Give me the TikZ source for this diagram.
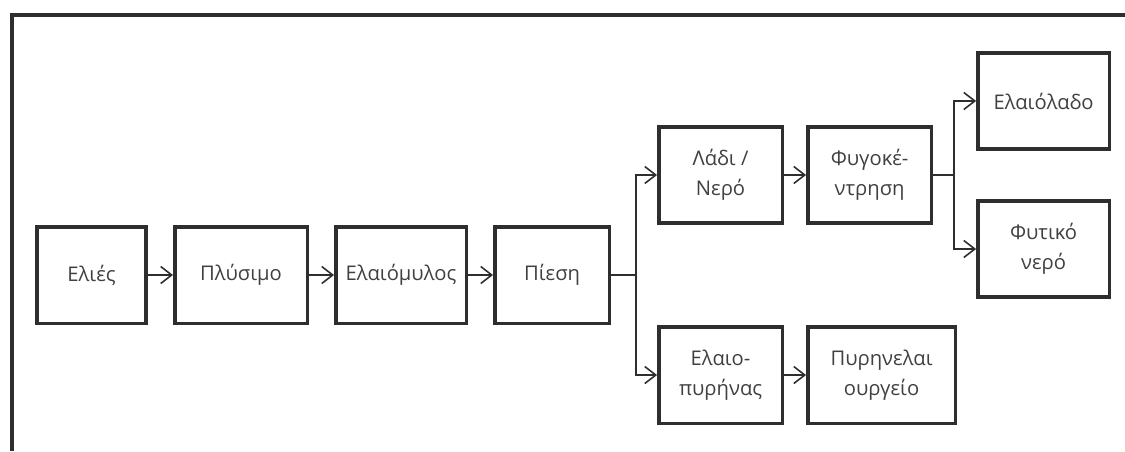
\documentclass[tikz,border=0pt]{standalone}
\usepackage{fontspec}
\setmainfont{Open Sans}
\usetikzlibrary{arrows.meta,positioning}
\definecolor{ink}{HTML}{2E2E2E}
\definecolor{txt}{HTML}{404040}
\tikzset{
    %Define standard arrow tip
    >={Straight Barb[length=2.2mm,width=3.4mm]},
    %Define style for boxes
    stage/.style={
    rectangle,
    draw=ink, line width=2pt,
    minimum height=1.93cm,
    inner sep=0pt,
    font=\fontsize{11.5}{17}\selectfont,
    text=txt,
    align=center
   },
    % Define arrow style
    pil/.style={
           ->,
           draw=ink,
           line width=0.9pt},
}
\begin{document}
\begin{tikzpicture}[node distance=0.5cm]
		\useasboundingbox (0,0) rectangle (22.5,-9.02);
		% frame
		\draw[ink, line width=2.2pt] (0.24,-9.02) -- (0.24,-0.3) -- (22.5,-0.3);
		\node[stage, minimum width=2.19cm] (eli) at (1.83,-5.5) {Ελιές};
		\node[stage, minimum width=2.65cm, right=of eli] (ply) {Πλύσιμο};
		\node[stage, minimum width=2.61cm, right=of ply] (myl) {Ελαιόμυλος};
		\node[stage, minimum width=2.29cm, right=of myl] (pie) {Πίεση};
		\node[stage, minimum width=2.47cm, above right=0pt and 0.92cm of pie] (lad) {Λάδι /\\Νερό};
		\node[stage, minimum width=2.47cm, below right=0pt and 0.92cm of pie] (pyr) {Ελαιο-\\πυρήνας};
		\node[stage, minimum width=2.47cm, right=0.44cm of lad] (fyg) {Φυγοκέ-\\ντρηση};
		\node[stage, minimum width=2.95cm, right=0.44cm of pyr] (pel) {Πυρηνελαι\\ουργείο};
		\node[stage, minimum width=2.63cm, right=0.86cm of fyg, yshift=1.48cm] (ela) {Ελαιόλαδο};
		\node[stage, minimum width=2.63cm, right=0.86cm of fyg, yshift=-1.48cm] (fyt) {Φυτικό\\νερό};
		\coordinate[right=0.5cm of pie] (split1);
		\coordinate[right=0.42cm of fyg] (split2);
		\path[pil]
		(eli) edge (ply)
		(ply) edge (myl)
		(myl) edge (pie)
		(lad) edge (fyg)
		(pyr) edge (pel);
		\draw[ink, line width=0.9pt] (pie) -- (split1);
		\draw[pil] (split1) |- (lad);
		\draw[pil] (split1) |- (pyr);
		\draw[ink, line width=0.9pt] (fyg) -- (split2);
		\draw[pil] (split2) |- (ela);
		\draw[pil] (split2) |- (fyt);
\end{tikzpicture}
\end{document}
